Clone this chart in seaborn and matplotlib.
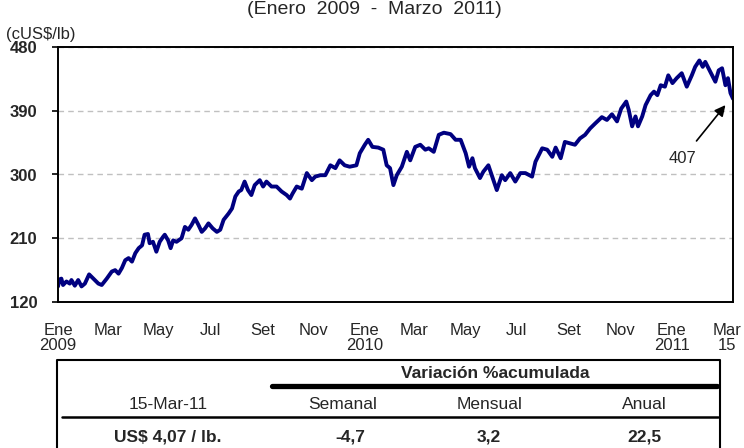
import pandas as pd
import matplotlib
matplotlib.use("Agg")
import matplotlib.pyplot as plt
import seaborn as sns
from matplotlib.lines import Line2D

# ===================== Datos: precio del cobre (cUS$/lb) =====================
# días transcurridos desde el 01-ene-2009 y precio
dias = [0, 2, 4, 6, 10, 14, 16, 20, 24, 28, 32, 37, 42, 48, 52, 58, 64, 68, 72, 76,
        80, 84, 88, 92, 96, 100, 103, 107, 109, 113, 117, 121, 125, 127, 131, 134, 137, 141, 147, 151,
        155, 159, 163, 167, 171, 175, 179, 184, 189, 193, 197, 203, 207, 211, 215, 218, 222, 226, 230, 234,
        240, 244, 248, 254, 260, 266, 272, 276, 279, 284, 290, 296, 302, 306, 312, 318, 324, 330, 335, 341,
        347, 355, 359, 365, 369, 374, 381, 387, 391, 395, 399, 403, 409, 415, 419, 425, 431, 437, 441, 447,
        453, 459, 467, 473, 479, 485, 489, 493, 496, 502, 506, 512, 516, 522, 528, 532, 538, 544, 550, 556,
        564, 568, 576, 582, 588, 592, 598, 603, 609, 615, 621, 627, 633, 639, 647, 653, 659, 665, 670, 676,
        679, 683, 687, 690, 695, 699, 705, 709, 713, 717, 722, 726, 731, 736, 742, 748, 754, 758, 763, 767,
        770, 776, 782, 786, 790, 794, 797, 800, 803]
precio = [142, 152, 153, 144, 149, 146, 151, 143, 151, 142, 146, 159, 153, 146, 144, 153, 163, 165, 160, 168,
          179, 182, 177, 189, 196, 200, 215, 216, 203, 205, 191, 205, 212, 215, 207, 196, 207, 205, 210, 226,
          222, 229, 238, 229, 219, 224, 231, 224, 219, 222, 236, 245, 252, 269, 276, 278, 290, 278, 271, 285,
          292, 283, 290, 283, 283, 276, 271, 266, 273, 283, 280, 302, 292, 297, 299, 299, 313, 309, 320, 313,
          311, 313, 330, 342, 349, 339, 338, 335, 313, 309, 285, 299, 311, 332, 320, 339, 342, 335, 337, 332,
          356, 359, 357, 349, 349, 330, 311, 323, 309, 295, 304, 313, 299, 278, 299, 292, 302, 290, 302, 302,
          297, 318, 337, 335, 325, 338, 323, 346, 344, 342, 351, 356, 365, 372, 381, 377, 385, 375, 393, 403,
          391, 368, 382, 368, 382, 398, 412, 417, 412, 426, 424, 440, 429, 436, 443, 424, 440, 452, 461, 452,
          459, 445, 431, 447, 450, 426, 436, 415, 407]

fechas_ticks = ["2009-01-01", "2009-03-01", "2009-05-01", "2009-07-01", "2009-09-01", "2009-11-01",
                "2010-01-01", "2010-03-01", "2010-05-01", "2010-07-01", "2010-09-01", "2010-11-01",
                "2011-01-01", "2011-03-08"]
etiquetas_x = ["Ene\n2009", "Mar", "May", "Jul", "Set", "Nov", "Ene\n2010", "Mar", "May", "Jul",
               "Set", "Nov", "Ene\n2011", "Mar\n15"]
valores_y = [120, 210, 300, 390, 480]

titulo = "(Enero  2009  -  Marzo  2011)"
unidad = "(cUS$/lb)"
ultimo = 407

encabezado = "Variación %acumulada"
columnas = ["15-Mar-11", "Semanal", "Mensual", "Anual"]
fila = ["US$ 4,07 / lb.", "-4,7", "3,2", "22,5"]

df = pd.DataFrame({
    "fecha": pd.Timestamp("2009-01-01") + pd.to_timedelta(dias, unit="D"),
    "precio": precio,
})

# ===================== Estilo =====================
sns.set_theme(style="white")
plt.rcParams["font.family"] = ["Liberation Sans", "DejaVu Sans"]

W, H = 744, 448
fig = plt.figure(figsize=(W / 100, H / 100), dpi=100)


def px(x, y):
    # pixeles de la imagen -> coordenadas de figura
    return x / W, 1 - y / H


ax = fig.add_axes([58 / W, 1 - 302 / H, 675 / W, 255 / H])
sns.lineplot(data=df, x="fecha", y="precio", color="#000080", linewidth=2.8, ax=ax)

ax.set_xlim(pd.Timestamp("2009-01-01"), pd.Timestamp("2011-03-15"))
ax.set_ylim(120, 480)
ax.set_yticks(valores_y)
ax.set_yticklabels([str(v) for v in valores_y], fontweight="bold", fontsize=12)
ax.set_xticks(pd.to_datetime(fechas_ticks))
ax.set_xticklabels(etiquetas_x, fontsize=12, linespacing=1.0, va="top")
ax.tick_params(axis="x", length=0, pad=15)
ax.tick_params(axis="y", length=4, width=1.2, color="black", pad=11, left=True)
ax.set_xlabel("")
ax.set_ylabel("")
ax.yaxis.grid(True, linestyle=(0, (4, 3)), color="#c0c0c0", linewidth=1)
ax.xaxis.grid(False)
for s in ax.spines.values():
    s.set_color("black")
    s.set_linewidth(1.4)

# flecha con último valor
ax.annotate(str(ultimo), xy=(pd.Timestamp("2011-03-06"), 398),
            xytext=(pd.Timestamp("2011-01-14"), 323), fontsize=12, ha="center", va="center",
            arrowprops=dict(arrowstyle="-|>", color="black", lw=1.2, mutation_scale=16,
                            shrinkA=6, shrinkB=0))

# títulos
fig.text(*px(374, 9), titulo, ha="center", va="center", fontsize=14)
fig.text(*px(6, 34), unidad, ha="left", va="center", fontsize=12)

# ===================== Tabla inferior =====================
caja = Line2D([57 / W, 57 / W, 720 / W, 720 / W], [0, 1 - 360 / H, 1 - 360 / H, 0],
              color="black", lw=1.5, transform=fig.transFigure)
fig.add_artist(caja)
fig.add_artist(Line2D([272 / W, 717 / W], [1 - 386 / H] * 2, color="black", lw=3.8,
                      transform=fig.transFigure))
fig.add_artist(Line2D([62 / W, 718 / W], [1 - 417 / H] * 2, color="black", lw=1.8,
                      transform=fig.transFigure))

fig.text(*px(495, 373), encabezado, ha="center", va="center", fontsize=12.5, fontweight="bold")
cols_x = [168, 343, 490, 644]
for cx, txt in zip(cols_x, columnas):
    fig.text(*px(cx, 404), txt, ha="center", va="center", fontsize=12.5)
for cx, txt in zip([168, 350, 489, 644], fila):
    fig.text(*px(cx, 437), txt, ha="center", va="center", fontsize=12.5, fontweight="bold")

fig.savefig("out.png", dpi=100)
plt.close(fig)
